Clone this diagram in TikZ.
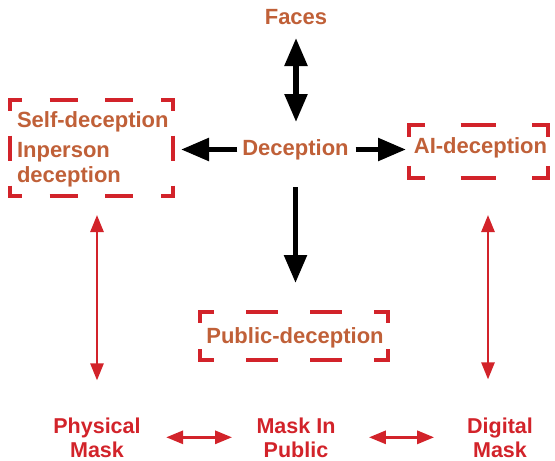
\documentclass[tikz,border=0pt]{standalone}
\usepackage{fontspec}
\setmainfont{Liberation Sans}
\usetikzlibrary{arrows.meta}
\definecolor{txtor}{RGB}{192,96,56}
\definecolor{redc}{RGB}{210,35,42}
\tikzset{
  lbl/.style={text=txtor, font=\fontsize{22}{26}\selectfont\bfseries, inner sep=0pt, outer sep=0pt, text height=16pt, text depth=5pt},
  rlbl/.style={text=redc, font=\fontsize{21.5}{24}\selectfont\bfseries, inner sep=0pt, outer sep=0pt, align=center},
  holder/.style={inner sep=0pt, outer sep=0pt, shape=rectangle},
  boxln/.style={draw=redc, line width=4pt, line cap=butt},
  blk/.style={draw=black, line width=5.5pt, {Triangle[length=28pt,width=22pt]}-{Triangle[length=28pt,width=22pt]}},
  blkone/.style={draw=black, line width=5.5pt, -{Triangle[length=28pt,width=22pt]}},
  redarr/.style={draw=redc, line width=2.6pt, {Triangle[length=17pt,width=13pt]}-{Triangle[length=17pt,width=13pt]}},
}
\newcommand{\cornerbox}[5]{%
  \draw[boxln, dash pattern=on #2pt off #2pt, dash phase=#3pt] ([yshift=-2pt]#1.north west) -- ([yshift=-2pt]#1.north east);
  \draw[boxln, dash pattern=on #2pt off #2pt, dash phase=#3pt] ([yshift=2pt]#1.south west) -- ([yshift=2pt]#1.south east);
  \draw[boxln, dash pattern=on #4pt off #4pt, dash phase=#5pt] ([xshift=2pt]#1.north west) -- ([xshift=2pt]#1.south west);
  \draw[boxln, dash pattern=on #4pt off #4pt, dash phase=#5pt] ([xshift=-2pt]#1.north east) -- ([xshift=-2pt]#1.south east);
}
\begin{document}
\begin{tikzpicture}[x=1pt,y=-1pt]
\useasboundingbox (0,0) rectangle (555,461);
% holders for dashed boxes
\node[holder, minimum width=167pt, minimum height=100pt] (self) at (91.5,148) {};
\node[holder, minimum width=143pt, minimum height=57pt] (ai) at (478.5,151.5) {};
\node[holder, minimum width=192pt, minimum height=52pt] (pub) at (294,336) {};
\cornerbox{self}{27.833}{13.917}{25}{12.5}
\cornerbox{ai}{35.75}{17.875}{28.5}{14.25}
\cornerbox{pub}{32}{16}{26}{13}
% texts
\node[lbl, anchor=base] (faces) at (296,24) {Faces};
\node[lbl, anchor=base] (dec) at (295.5,155) {Deception};
\node[lbl, anchor=base west] (selfa) at (17,127) {Self-deception};
\node[lbl, anchor=base west] (selfb) at (17,157) {Inperson};
\node[lbl, anchor=base west] (selfc) at (17,182) {deception};
\node[lbl, anchor=base] (aitext) at (480.5,153) {AI-deception};
\node[lbl, anchor=base] (pubtext) at (295,343) {Public-deception};
\node[rlbl, anchor=base] (phys) at (97,457) {Physical\\Mask};
\node[rlbl, anchor=base] (mask) at (296,457) {Mask In\\Public};
\node[rlbl, anchor=base] (digi) at (500,457) {Digital\\Mask};
% black arrows
\draw[blk, shorten <=9pt, shorten >=17pt] (faces.south) -- (faces.south |- dec.north);
\draw[blkone, shorten <=5pt, shorten >=6pt] (dec.west) -- (dec.west -| self.east);
\draw[blkone, shorten <=7pt, shorten >=1pt] (dec.east) -- (dec.east -| ai.west);
\draw[blkone, shorten <=27pt, shorten >=27pt] (dec.south) -- (dec.south |- pub.north);
% red arrows
\draw[redarr, shorten <=17pt, shorten >=37pt] (phys.north |- self.south) -- (phys.north);
\draw[redarr, shorten <=35pt, shorten >=38pt] ([xshift=9.5pt]ai.south) -- ([xshift=9.5pt]ai.south |- digi.north);
\draw[redarr, line width=3pt, shorten <=25.5pt, shorten >=24.5pt] (phys.east) -- (phys.east -| mask.west);
\draw[redarr, line width=3pt, shorten <=33.5pt, shorten >=33pt] (mask.east) -- (mask.east -| digi.west);
\end{tikzpicture}
\end{document}
